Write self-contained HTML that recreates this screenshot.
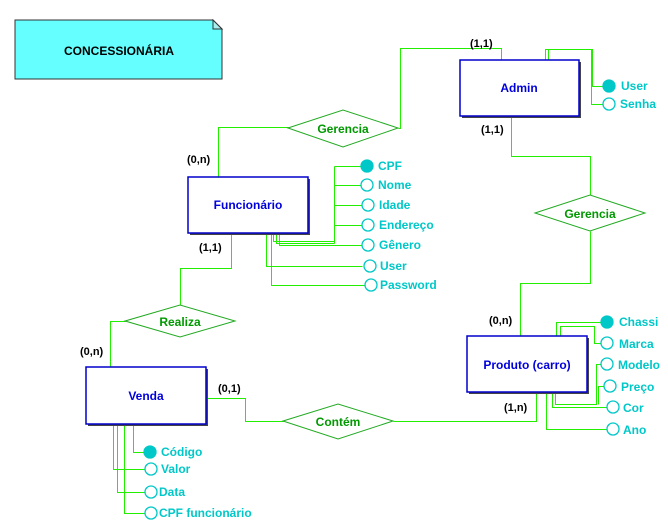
<!DOCTYPE html>
<html><head><meta charset="utf-8"><style>
html,body{margin:0;padding:0;background:#fff;}
svg{display:block;}
text{font-family:"Liberation Sans",sans-serif;font-weight:bold;}
.c{font-size:11px;fill:#000;}
.a{font-size:12px;fill:#00c8c8;}
.e{font-size:12px;fill:#0000dd;}
.r{font-size:12px;fill:#009900;}
</style></head><body>
<svg width="668" height="524" viewBox="0 0 668 524" xmlns="http://www.w3.org/2000/svg">
<rect width="668" height="524" fill="#fff"/>
<polygon points="15,20 213,20 222,29 222,79 15,79" fill="#66ffff" stroke="#333" stroke-width="1"/>
<polygon points="213,20 213,29 222,29" fill="#aaeeee" stroke="#333" stroke-width="1"/>
<text x="119" y="55" text-anchor="middle" font-size="12" fill="#000">CONCESSIONÁRIA</text>

<g fill="none" stroke="#22ee00" stroke-width="1" shape-rendering="crispEdges" transform="translate(0.5,0.5)">
<polyline points="218,177 218,127 288,127"/>
<polyline points="398,128 400,128 400,48 501,48 501,60"/>
<polyline points="511,116 511,156 590,156 590,195"/>
<polyline points="590,231 590,283 520,283 520,336"/>
<polyline points="231,233 231,268 180,268 180,305"/>
<polyline points="125,321 110,321 110,367"/>
<polyline points="206,398 245,398 245,421 283,421"/>
<polyline points="393,421 536,421 536,392"/>
<polyline points="334,166 334,243"/>
<line x1="334" y1="166" x2="361" y2="166"/>
<line x1="334" y1="185" x2="361" y2="185"/>
<line x1="334" y1="205" x2="361" y2="205"/>
<line x1="334" y1="225" x2="361" y2="225"/>
<polyline points="273,233 273,241 334,241"/>
<polyline points="276,233 276,243 334,243"/>
<polyline points="279,233 279,245 361,245"/>
<polyline points="266,233 266,266 362,266"/>
<polyline points="271,233 271,285 364,285"/>
<polyline points="545,60 545,49 591,49 591,86 603,86"/>
<polyline points="548,60 548,49 592,49 592,86"/>
<polyline points="591,86 591,104 603,104"/>
<polyline points="556,336 556,322 601,322"/>
<polyline points="560,336 560,326 594,326 594,343 601,343"/>
<polyline points="546,392 546,429 609,429"/>
<polyline points="552,392 552,407 607,407"/>
<polyline points="555,392 555,404 596,404 596,364 601,364"/>
<polyline points="598,404 598,386 604,386"/>
<polyline points="133,424 133,452 144,452"/>
<polyline points="113,424 113,469 146,469"/>
<polyline points="117,424 117,492 146,492"/>
<polyline points="124,424 124,513 146,513"/>
</g>

<g fill="#fff" stroke="#22aa22" stroke-width="1">
<polygon points="288,128 343,110 398,128 343,147"/>
<polygon points="535,213 590,195 645,213 590,231"/>
<polygon points="125,321 180,305 235,321 180,337"/>
<polygon points="283,421 338,404 393,421 338,439"/>
</g>
<text class="r" x="343" y="133" text-anchor="middle">Gerencia</text>
<text class="r" x="590" y="218" text-anchor="middle">Gerencia</text>
<text class="r" x="180" y="326" text-anchor="middle">Realiza</text>
<text class="r" x="338" y="426" text-anchor="middle">Contém</text>

<g>
<rect x="462" y="62" width="119" height="56" fill="#444"/>
<rect x="460" y="60" width="119" height="56" fill="#fff" stroke="#0000cc" stroke-width="1.5"/>
<rect x="190" y="179" width="120" height="56" fill="#444"/>
<rect x="188" y="177" width="120" height="56" fill="#fff" stroke="#0000cc" stroke-width="1.5"/>
<rect x="469" y="338" width="120" height="56" fill="#444"/>
<rect x="467" y="336" width="120" height="56" fill="#fff" stroke="#0000cc" stroke-width="1.5"/>
<rect x="88" y="369" width="120" height="57" fill="#444"/>
<rect x="86" y="367" width="120" height="57" fill="#fff" stroke="#0000cc" stroke-width="1.5"/>
</g>
<text class="e" x="519" y="92" text-anchor="middle">Admin</text>
<text class="e" x="248" y="209" text-anchor="middle">Funcionário</text>
<text class="e" x="527" y="369" text-anchor="middle">Produto (carro)</text>
<text class="e" x="146" y="400" text-anchor="middle">Venda</text>

<text class="c" x="470" y="47">(1,1)</text>
<text class="c" x="481" y="133">(1,1)</text>
<text class="c" x="187" y="163">(0,n)</text>
<text class="c" x="199" y="251">(1,1)</text>
<text class="c" x="80" y="355">(0,n)</text>
<text class="c" x="218" y="392">(0,1)</text>
<text class="c" x="489" y="324">(0,n)</text>
<text class="c" x="504" y="411">(1,n)</text>

<g stroke="#00c8c8" stroke-width="1.3" fill="#fff">
<circle cx="367" cy="166" r="6" fill="#00c8c8"/>
<circle cx="367" cy="185" r="6"/>
<circle cx="368" cy="205" r="6"/>
<circle cx="368" cy="225" r="6"/>
<circle cx="368" cy="245" r="6"/>
<circle cx="370" cy="266" r="6"/>
<circle cx="371" cy="285" r="6"/>
<circle cx="609" cy="86" r="6" fill="#00c8c8"/>
<circle cx="609" cy="104" r="6"/>
<circle cx="607" cy="322" r="6" fill="#00c8c8"/>
<circle cx="607" cy="343" r="6"/>
<circle cx="607" cy="364" r="6"/>
<circle cx="610" cy="386" r="6"/>
<circle cx="613" cy="407" r="6"/>
<circle cx="613" cy="429" r="6"/>
<circle cx="150" cy="452" r="6" fill="#00c8c8"/>
<circle cx="151" cy="469" r="6"/>
<circle cx="151" cy="492" r="6"/>
<circle cx="151" cy="513" r="6"/>
</g>
<text class="a" x="378" y="170">CPF</text>
<text class="a" x="378" y="189">Nome</text>
<text class="a" x="379" y="209">Idade</text>
<text class="a" x="379" y="229">Endereço</text>
<text class="a" x="379" y="249">Gênero</text>
<text class="a" x="380" y="270">User</text>
<text class="a" x="380" y="289">Password</text>
<text class="a" x="621" y="90">User</text>
<text class="a" x="620" y="108">Senha</text>
<text class="a" x="619" y="326">Chassi</text>
<text class="a" x="619" y="348">Marca</text>
<text class="a" x="618" y="369">Modelo</text>
<text class="a" x="621" y="391">Preço</text>
<text class="a" x="623" y="412">Cor</text>
<text class="a" x="623" y="434">Ano</text>
<text class="a" x="161" y="456">Código</text>
<text class="a" x="161" y="473">Valor</text>
<text class="a" x="159" y="496">Data</text>
<text class="a" x="159" y="517">CPF funcionário</text>
</svg>
</body></html>
